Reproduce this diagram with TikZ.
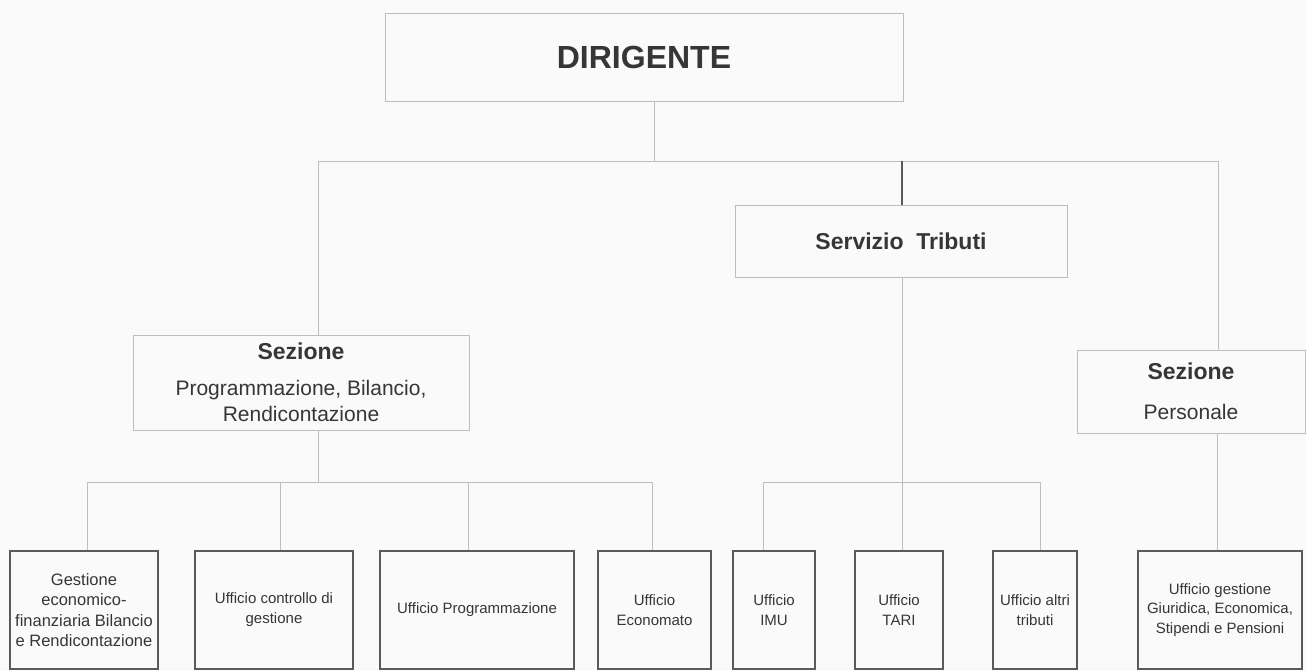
\documentclass[tikz,border=0pt]{standalone}
\usepackage{fontspec}
\setmainfont{Liberation Sans}
\definecolor{bg}{HTML}{FAFAFA}
\definecolor{txt}{HTML}{363636}
\definecolor{lightln}{HTML}{BDBDBD}
\definecolor{darkln}{HTML}{5A5A5A}
\newcommand{\hdsz}{\fontsize{23}{26}\selectfont\bfseries}
\newcommand{\subsz}{\fontsize{21}{23}\selectfont\mdseries}
\tikzset{
  upbox/.style={draw=lightln, line width=0.9pt, rectangle, inner sep=0pt, text=txt, align=center},
  lowbox/.style={draw=darkln, line width=1.2pt, rectangle, inner sep=0pt, text=txt, align=center,
    minimum height=118pt, font=\fontsize{15}{20}\selectfont},
  conn/.style={draw=lightln, line width=0.9pt},
  connd/.style={draw=darkln, line width=1.1pt},
}
\begin{document}
\begin{tikzpicture}[x=1pt,y=-1pt]
\useasboundingbox[fill=bg] (0,0) rectangle (1306,671);
% upper level
\node[upbox, minimum width=518pt, minimum height=88pt, font=\fontsize{32}{36}\selectfont\bfseries] (dir) at (644,57) {DIRIGENTE};
\node[upbox, minimum width=336pt, minimum height=95pt, font=\hdsz] (sez1) at (301,382.5)
  {Sezione\\[10pt]\subsz Programmazione, Bilancio,\\\subsz Rendicontazione};
\node[upbox, minimum width=332pt, minimum height=72pt, font=\hdsz] (serv) at (901,241) {Servizio\hspace{0.55em}Tributi};
\node[upbox, minimum width=228pt, minimum height=83pt, font=\hdsz] (sez2) at (1191,391.5)
  {Sezione\\[14pt]\subsz Personale};
% lower level
\node[lowbox, minimum width=148pt, font=\fontsize{16.5}{20.5}\selectfont] (u1) at (84,610) {Gestione\\economico-\\finanziaria Bilancio\\e Rendicontazione};
\node[lowbox, minimum width=158pt] (u2) at (274,610) {Ufficio controllo di\\gestione};
\node[lowbox, minimum width=194pt] (u3) at (477,610) {Ufficio Programmazione};
\node[lowbox, minimum width=113pt] (u4) at (654.5,610) {Ufficio\\Economato};
\node[lowbox, minimum width=82pt] (u5) at (774,610) {Ufficio\\IMU};
\node[lowbox, minimum width=88pt] (u6) at (899,610) {Ufficio\\TARI};
\node[lowbox, minimum width=84pt] (u7) at (1035,610) {Ufficio altri\\tributi};
\node[lowbox, minimum width=164pt, font=\fontsize{15}{19.5}\selectfont] (u8) at (1220,610) {Ufficio gestione\\Giuridica, Economica,\\Stipendi e Pensioni};
% junction coordinates
\coordinate (t0) at (654,161);
\coordinate (tL) at (318,161);
\coordinate (tS) at (902,161);
\coordinate (tR) at (1218,161);
\coordinate (m1) at (318,482);
\coordinate (m1a) at (87,482);
\coordinate (m1b) at (280,482);
\coordinate (m1c) at (468,482);
\coordinate (m1d) at (652,482);
\coordinate (m2) at (902,482);
\coordinate (m2a) at (763,482);
\coordinate (m2c) at (1040,482);
\coordinate (p8) at (1217,482);
% connectors
\draw[conn] (dir.south -| t0) -- (t0);
\draw[conn] (tL) -- (tR);
\draw[conn] (tL) -- (sez1.north -| tL);
\draw[connd] (tS) -- (serv.north -| tS);
\draw[conn] (tR) -- (sez2.north -| tR);
\draw[conn] (sez1.south -| m1) -- (m1);
\draw[conn] (m1a) -- (m1d);
\draw[conn] (m1a) -- (u1.north -| m1a);
\draw[conn] (m1b) -- (u2.north -| m1b);
\draw[conn] (m1c) -- (u3.north -| m1c);
\draw[conn] (m1d) -- (u4.north -| m1d);
\draw[conn] (serv.south -| m2) -- (m2);
\draw[conn] (m2a) -- (m2c);
\draw[conn] (m2a) -- (u5.north -| m2a);
\draw[conn] (m2) -- (u6.north -| m2);
\draw[conn] (m2c) -- (u7.north -| m2c);
\draw[conn] (sez2.south -| p8) -- (u8.north -| p8);
\end{tikzpicture}
\end{document}
